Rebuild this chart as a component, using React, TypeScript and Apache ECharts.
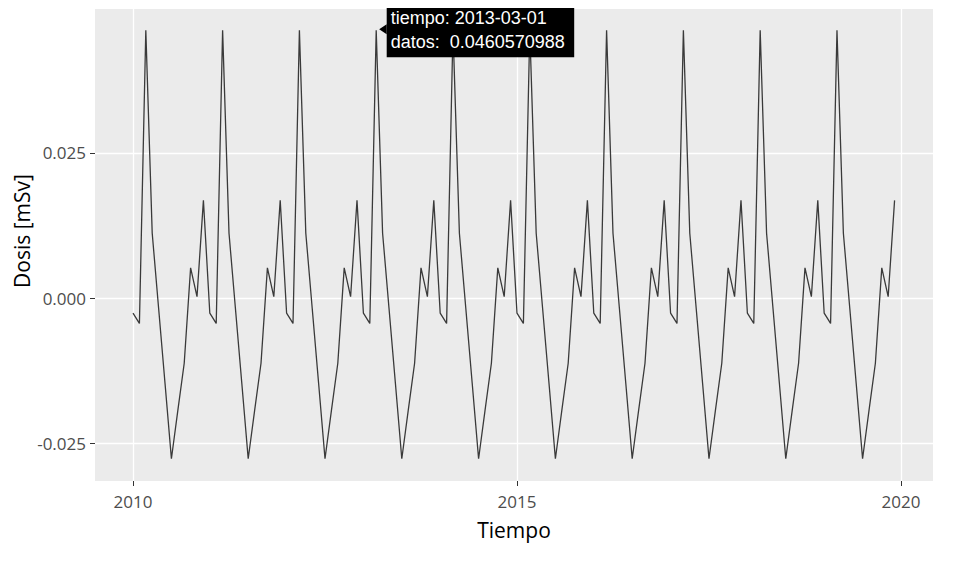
import React, { useEffect, useRef } from "react";
import * as echarts from "echarts";

// Years covered by the series (monthly data, Jan..Dec each year)
const years = [2010, 2011, 2012, 2013, 2014, 2015, 2016, 2017, 2018, 2019];
// Seasonal component, Jan..Dec (mSv)
const seasonal = [
  -0.00258, -0.00434, 0.0460570988, 0.01118, -0.00172, -0.01463,
  -0.0276, -0.01934, -0.01118, 0.00521, 0.00028, 0.01683,
];
// Tick labels
const xTicks = [2010, 2015, 2020];
const yTicks = [-0.025, 0, 0.025];
// Hovered point shown in the tooltip
const tipDate = "2013-03-01";
const tipValue = 0.0460570988;

const FONT = "'Open Sans', 'DejaVu Sans', sans-serif";

export default function App() {
  const ref = useRef<HTMLDivElement>(null);
  useEffect(() => {
    if (!ref.current) return;
    const chart = echarts.init(ref.current, undefined, { renderer: "svg" });
    const data: [number, number][] = [];
    years.forEach((y) => {
      seasonal.forEach((v, m) => {
        data.push([y + m / 12, v]);
      });
    });
    chart.setOption({
      animation: false,
      backgroundColor: "#ffffff",
      grid: {
        left: 95,
        right: 25,
        top: 9,
        bottom: 82,
        show: true,
        backgroundColor: "#ebebeb",
        borderWidth: 0,
      },
      xAxis: {
        type: "value",
        min: 2009.505,
        max: 2020.417,
        name: "Tiempo",
        nameLocation: "middle",
        nameGap: 38,
        nameTextStyle: { fontFamily: FONT, fontSize: 21, color: "#000000" },
        axisLine: { show: false, onZero: false },
        axisTick: {
          show: true,
          length: 5,
          lineStyle: { color: "#333333", width: 1 },
          customValues: xTicks,
        },
        axisLabel: {
          customValues: xTicks,
          fontFamily: FONT,
          fontSize: 17,
          color: "#4d4d4d",
          margin: 12,
          formatter: (v: number) => String(Math.round(v)),
        },
        splitLine: { show: true, lineStyle: { color: "#ffffff", width: 1.3 } },
      },
      yAxis: {
        type: "value",
        min: -0.03143,
        max: 0.04973,
        axisLine: { show: false, onZero: false },
        axisTick: {
          show: true,
          length: 5,
          lineStyle: { color: "#333333", width: 1 },
          customValues: yTicks,
        },
        axisLabel: {
          customValues: yTicks,
          fontFamily: FONT,
          fontSize: 17,
          color: "#4d4d4d",
          margin: 9,
          formatter: (v: number) => v.toFixed(3),
        },
        splitLine: { show: true, lineStyle: { color: "#ffffff", width: 1.3 } },
      },
      series: [
        {
          type: "line",
          data,
          symbol: "none",
          lineStyle: { color: "#3a3a3a", width: 1.3 },
          z: 3,
        },
      ],
    });

    const tipX = 2013 + 2 / 12;
    const p = chart.convertToPixel({ xAxisIndex: 0, yAxisIndex: 0 }, [tipX, tipValue]) as number[];
    const px = p[0];
    const py = p[1];
    chart.setOption({
      graphic: [
        {
          type: "text",
          rotation: Math.PI / 2,
          x: 22,
          y: 231,
          style: {
            text: "Dosis [mSv]",
            fontFamily: FONT,
            fontSize: 21,
            fill: "#000000",
            align: "center",
            verticalAlign: "middle",
          },
        },
        {
          type: "polygon",
          z: 100,
          shape: {
            points: [
              [px + 3, py - 1],
              [px + 10.5, py - 6],
              [px + 10.5, py + 4],
            ],
          },
          style: { fill: "#000000" },
        },
        {
          type: "rect",
          z: 100,
          shape: { x: px + 10.5, y: py - 26, width: 187.5, height: 53 },
          style: { fill: "#000000" },
        },
        {
          type: "text",
          z: 101,
          x: px + 14.5,
          y: py - 12,
          style: {
            text: "tiempo: " + tipDate,
            fontFamily: "'Liberation Sans', Arial, sans-serif",
            fontSize: 18,
            fill: "#ffffff",
            align: "left",
            verticalAlign: "middle",
          },
        },
        {
          type: "text",
          z: 101,
          x: px + 14.5,
          y: py + 12,
          style: {
            text: "datos:  " + tipValue.toFixed(10),
            fontFamily: "'Liberation Sans', Arial, sans-serif",
            fontSize: 18,
            fill: "#ffffff",
            align: "left",
            verticalAlign: "middle",
          },
        },
      ],
    });
    return () => chart.dispose();
  }, []);
  return <div ref={ref} style={{ width: 958, height: 563, margin: -8 }} />;
}
